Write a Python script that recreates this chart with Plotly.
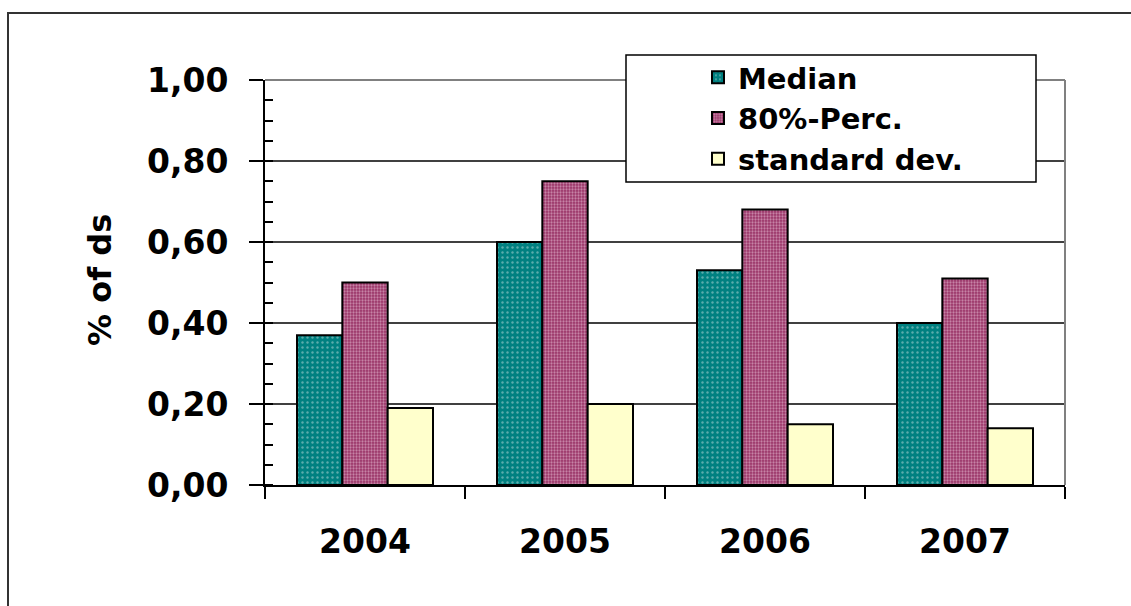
import plotly.graph_objects as go

# Yearly statistics, share of ds
years = ["2004", "2005", "2006", "2007"]
median = [0.37, 0.60, 0.53, 0.40]
perc80 = [0.50, 0.75, 0.68, 0.51]
std_dev = [0.19, 0.20, 0.15, 0.14]

series_names = ["Median", "80%-Perc.", "standard dev."]

FONT = "DejaVu Sans, Arial, sans-serif"

fig = go.Figure()

fig.add_trace(go.Bar(
    name=series_names[0], x=years, y=median,
    marker=dict(color="#008080", line=dict(color="black", width=2),
                pattern=dict(shape=".", bgcolor="#008080", fgcolor="#b8d8d8",
                             size=5, solidity=0.18)),
))
fig.add_trace(go.Bar(
    name=series_names[1], x=years, y=perc80,
    marker=dict(color="#993366", line=dict(color="black", width=2),
                pattern=dict(shape=".", bgcolor="#993366", fgcolor="#f4d4e6",
                             size=3, solidity=0.45)),
))
fig.add_trace(go.Bar(
    name=series_names[2], x=years, y=std_dev,
    marker=dict(color="#FFFFCC", line=dict(color="black", width=2)),
))

# pixel helpers for the fixed plot area (l=265, r=1065, top=80, bottom=485)
def px(xpix):
    return (xpix - 265) / 800.0

def py(ypix):
    return (485 - ypix) / 405.0

shapes = [
    # outer chart frame
    dict(type="rect", xref="paper", yref="paper",
         x0=px(8), x1=px(1200), y0=py(13), y1=py(700),
         line=dict(color="#333333", width=2), fillcolor="rgba(0,0,0,0)",
         layer="below"),
    # plot-area border on the top and right
    dict(type="line", xref="paper", yref="paper", x0=0, x1=1, y0=1, y1=1,
         line=dict(color="#808080", width=2), layer="above"),
    dict(type="line", xref="paper", yref="paper", x0=1, x1=1, y0=0, y1=1,
         line=dict(color="#808080", width=2), layer="above"),
    # legend box
    dict(type="rect", xref="paper", yref="paper",
         x0=px(626), x1=px(1036), y0=py(182), y1=py(55),
         line=dict(color="black", width=1.5), fillcolor="white",
         layer="above"),
]

fig.update_layout(
    width=1131, height=606,
    margin=dict(l=265, r=66, t=80, b=121, autoexpand=False),
    paper_bgcolor="white", plot_bgcolor="white",
    separators=",.",
    barmode="group", bargap=0.32, bargroupgap=0,
    font=dict(family=FONT, color="black"),
    showlegend=True,
    legend=dict(
        x=px(698), y=py(52), xanchor="left", yanchor="top",
        bgcolor="rgba(0,0,0,0)", borderwidth=0,
        font=dict(family=FONT, size=29, color="black", weight="bold"),
        itemclick=False,
    ),
    shapes=shapes,
    annotations=[dict(
        text="<b>% of ds</b>", xref="paper", yref="paper",
        x=px(100), y=py(280), xanchor="center", yanchor="middle",
        textangle=-90, showarrow=False,
        font=dict(family=FONT, size=32, color="black"),
    )],
)

fig.update_xaxes(
    type="category", automargin=False,
    showline=True, linecolor="black", linewidth=2,
    ticks="outside", tickson="boundaries", ticklen=12, tickcolor="black", tickwidth=1.5,
    tickfont=dict(family=FONT, size=33, color="black", weight="bold"),
    ticklabelstandoff=26, showgrid=False,
)

fig.update_yaxes(
    range=[0, 1], automargin=False,
    dtick=0.2, tick0=0, tickformat=".2f",
    showline=True, linecolor="black", linewidth=2,
    ticks="outside", ticklen=14, tickcolor="black", tickwidth=1.5,
    tickfont=dict(family=FONT, size=33, color="black", weight="bold"),
    ticklabelstandoff=14,
    showgrid=True, gridcolor="#404040", gridwidth=1.5,
    zeroline=False,
    minor=dict(dtick=0.05, ticks="inside", ticklen=8, tickcolor="black",
               tickwidth=1.5, showgrid=False),
)

fig.write_html("out.html")
